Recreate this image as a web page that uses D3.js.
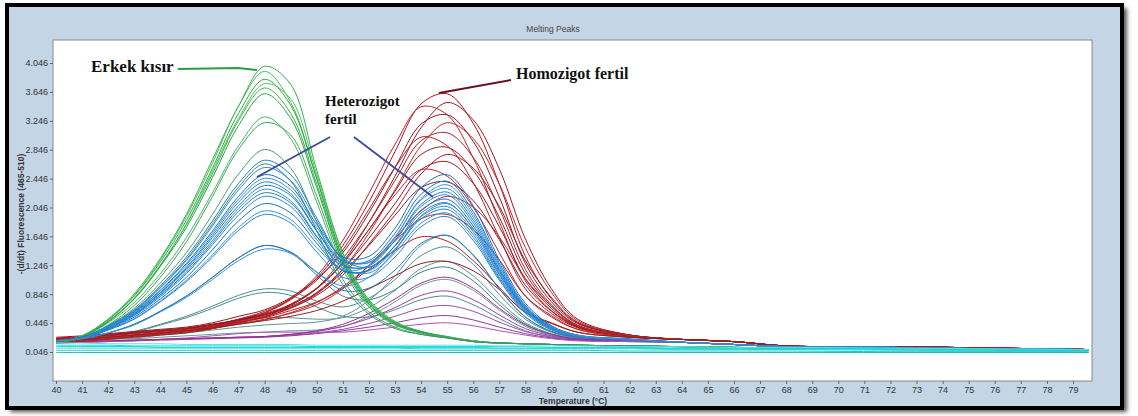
<!DOCTYPE html>
<html>
<head>
<meta charset="utf-8">
<title>Melting Peaks</title>
<script src="https://d3js.org/d3.v7.min.js"></script>
<style>
  html, body { margin: 0; background: #fff; }
  svg { display: block; }
  .tick text { font-family: "Liberation Sans", Arial, sans-serif; font-size: 9px; fill: #333; }
  .tick line { stroke: #666; }
  .curve { fill: none; stroke-width: 1; }
  .note { font-family: "Liberation Serif", "Times New Roman", serif; font-weight: bold; fill: #111; }
  .axisTitle { font-family: "Liberation Sans", Arial, sans-serif; font-weight: bold; font-size: 8.5px; fill: #333; }
</style>
</head>
<body>
<svg width="1138" height="416"></svg>
<script>
// temperature grid shared by every curve (°C)
const temps = [40, 41, 42, 43, 44, 45, 46, 47, 48, 49, 50, 51, 52, 53, 54, 55, 56, 57, 58, 59, 60, 62, 64, 66, 68, 72, 76, 79.6];

const xTicks = [40, 41, 42, 43, 44, 45, 46, 47, 48, 49, 50, 51, 52, 53, 54, 55, 56, 57, 58, 59,
                60, 61, 62, 63, 64, 65, 66, 67, 68, 69, 70, 71, 72, 73, 74, 75, 76, 77, 78, 79];
const yTicks = [0.046, 0.446, 0.846, 1.246, 1.646, 2.046, 2.446, 2.846, 3.246, 3.646, 4.046];

// Erkek kısır (single peak ~48 °C)
const greenCurves = [
  [0.18,0.27,0.5,0.85,1.34,1.95,2.71,3.45,4.0,3.75,2.56,1.42,0.77,0.47,0.33,0.26,0.2,0.17,0.16,0.15,0.14,0.13,0.12,0.11,0.1,0.1,0.08,0.07],
  [0.18,0.27,0.5,0.83,1.32,1.92,2.66,3.45,3.93,3.5,2.45,1.35,0.75,0.46,0.33,0.26,0.2,0.17,0.16,0.15,0.14,0.13,0.12,0.11,0.1,0.1,0.08,0.07],
  [0.18,0.26,0.49,0.82,1.29,1.87,2.59,3.35,3.82,3.46,2.44,1.36,0.74,0.45,0.33,0.25,0.2,0.17,0.16,0.15,0.14,0.13,0.12,0.11,0.1,0.1,0.08,0.07],
  [0.18,0.25,0.46,0.78,1.24,1.82,2.55,3.28,3.76,3.55,2.5,1.4,0.75,0.45,0.32,0.25,0.2,0.17,0.16,0.15,0.14,0.13,0.12,0.11,0.1,0.1,0.08,0.07],
  [0.17,0.25,0.47,0.79,1.25,1.81,2.51,3.25,3.7,3.35,2.37,1.32,0.72,0.44,0.32,0.25,0.19,0.17,0.16,0.15,0.14,0.13,0.12,0.11,0.1,0.1,0.08,0.07],
  [0.18,0.26,0.47,0.78,1.23,1.77,2.46,3.18,3.62,3.28,2.32,1.29,0.71,0.44,0.32,0.25,0.19,0.17,0.16,0.15,0.14,0.13,0.12,0.11,0.1,0.1,0.08,0.07],
  [0.18,0.25,0.45,0.73,1.13,1.63,2.25,2.9,3.3,3.0,2.12,1.19,0.67,0.42,0.31,0.25,0.19,0.17,0.16,0.15,0.14,0.13,0.12,0.11,0.1,0.1,0.08,0.07],
  [0.18,0.24,0.42,0.69,1.08,1.57,2.2,2.85,3.22,3.05,2.2,1.25,0.69,0.43,0.31,0.25,0.19,0.17,0.16,0.15,0.14,0.13,0.12,0.11,0.1,0.1,0.08,0.07],
  [0.18,0.24,0.41,0.65,1.0,1.42,1.95,2.51,2.85,2.59,1.84,1.05,0.6,0.39,0.29,0.24,0.19,0.17,0.16,0.15,0.14,0.13,0.12,0.11,0.1,0.1,0.08,0.07],
  [0.18,0.24,0.4,0.62,0.94,1.33,1.82,2.33,2.65,2.41,1.72,0.98,0.57,0.37,0.29,0.24,0.19,0.17,0.16,0.15,0.14,0.13,0.12,0.11,0.1,0.1,0.08,0.07]
];

// Heterozigot fertil (two peaks, ~48 and ~55 °C)
const blueCurves = [
  [0.2,0.25,0.41,0.63,0.96,1.36,1.86,2.38,2.7,2.5,1.9,1.33,1.22,1.47,1.89,2.02,1.67,1.08,0.61,0.36,0.26,0.22,0.18,0.15,0.12,0.11,0.09,0.08],
  [0.2,0.25,0.4,0.61,0.93,1.31,1.79,2.29,2.6,2.42,1.86,1.34,1.28,1.59,2.06,2.22,1.83,1.18,0.65,0.38,0.27,0.22,0.18,0.15,0.12,0.11,0.09,0.08],
  [0.2,0.25,0.39,0.6,0.9,1.27,1.72,2.2,2.5,2.34,1.81,1.36,1.37,1.76,2.32,2.5,2.07,1.32,0.72,0.41,0.28,0.23,0.18,0.15,0.12,0.11,0.09,0.08],
  [0.2,0.24,0.39,0.59,0.89,1.25,1.69,2.16,2.45,2.29,1.77,1.31,1.29,1.64,2.15,2.31,1.91,1.23,0.67,0.39,0.27,0.22,0.18,0.15,0.12,0.11,0.09,0.08],
  [0.2,0.24,0.38,0.58,0.87,1.22,1.66,2.12,2.4,2.24,1.72,1.26,1.22,1.51,1.97,2.11,1.75,1.13,0.63,0.37,0.27,0.22,0.18,0.15,0.12,0.11,0.09,0.08],
  [0.2,0.24,0.38,0.57,0.86,1.2,1.63,2.07,2.35,2.21,1.72,1.3,1.31,1.69,2.23,2.41,1.99,1.28,0.69,0.4,0.28,0.22,0.18,0.15,0.12,0.11,0.09,0.08],
  [0.2,0.24,0.38,0.56,0.84,1.18,1.59,2.03,2.3,2.14,1.65,1.21,1.14,1.42,1.83,1.97,1.63,1.06,0.6,0.36,0.26,0.22,0.18,0.15,0.12,0.11,0.09,0.08],
  [0.2,0.24,0.37,0.56,0.83,1.15,1.56,1.99,2.25,2.11,1.64,1.24,1.24,1.59,2.09,2.26,1.87,1.2,0.66,0.38,0.27,0.22,0.18,0.15,0.12,0.11,0.09,0.08],
  [0.2,0.24,0.37,0.55,0.81,1.13,1.53,1.94,2.2,2.06,1.6,1.18,1.17,1.47,1.92,2.06,1.71,1.11,0.62,0.37,0.26,0.22,0.18,0.15,0.12,0.11,0.09,0.08],
  [0.2,0.24,0.36,0.53,0.78,1.08,1.46,1.86,2.1,1.97,1.55,1.17,1.18,1.52,2.01,2.16,1.79,1.16,0.64,0.38,0.27,0.22,0.18,0.15,0.12,0.11,0.09,0.08],
  [0.2,0.24,0.35,0.51,0.75,1.04,1.39,1.77,2.0,1.88,1.49,1.18,1.24,1.63,2.17,2.36,1.95,1.25,0.68,0.39,0.28,0.22,0.18,0.15,0.12,0.11,0.09,0.08],
  [0.2,0.23,0.35,0.5,0.74,1.02,1.36,1.73,1.95,1.83,1.43,1.08,1.08,1.36,1.78,1.92,1.59,1.04,0.58,0.35,0.26,0.21,0.18,0.15,0.12,0.11,0.09,0.08],
  [0.2,0.23,0.31,0.43,0.61,0.82,1.08,1.35,1.52,1.43,1.15,0.9,0.93,1.18,1.55,1.66,1.39,0.92,0.53,0.33,0.25,0.21,0.18,0.15,0.12,0.11,0.09,0.08],
  [0.2,0.23,0.31,0.42,0.6,0.8,1.05,1.31,1.47,1.41,1.15,0.96,1.08,1.45,1.93,2.1,1.75,1.13,0.63,0.37,0.27,0.22,0.18,0.15,0.12,0.11,0.09,0.08]
];

// grey-teal samples with weaker peaks
const tealCurves = [
  [0.2,0.21,0.27,0.33,0.43,0.54,0.68,0.83,0.92,0.89,0.75,0.67,0.79,1.05,1.38,1.5,1.26,0.84,0.5,0.32,0.24,0.21,0.18,0.15,0.12,0.11,0.09,0.08],
  [0.2,0.21,0.23,0.26,0.31,0.36,0.42,0.48,0.52,0.52,0.5,0.52,0.66,0.9,1.2,1.3,1.1,0.75,0.45,0.3,0.23,0.2,0.18,0.15,0.12,0.11,0.09,0.08],
  [0.2,0.23,0.31,0.43,0.61,0.82,1.08,1.35,1.52,1.42,1.11,0.82,0.77,0.91,1.15,1.22,1.03,0.7,0.43,0.29,0.23,0.2,0.18,0.15,0.12,0.11,0.09,0.08],
  [0.2,0.2,0.22,0.23,0.25,0.27,0.29,0.31,0.32,0.34,0.35,0.4,0.54,0.74,0.97,1.05,0.9,0.63,0.4,0.28,0.22,0.2,0.18,0.15,0.12,0.11,0.09,0.08],
  [0.2,0.21,0.26,0.32,0.42,0.52,0.65,0.79,0.87,0.83,0.67,0.54,0.53,0.63,0.77,0.82,0.7,0.51,0.34,0.25,0.21,0.19,0.18,0.15,0.12,0.11,0.09,0.08],
  [0.2,0.2,0.23,0.24,0.28,0.31,0.35,0.39,0.42,0.44,0.46,0.54,0.76,1.1,1.52,1.66,1.38,0.92,0.53,0.33,0.25,0.21,0.18,0.15,0.12,0.11,0.09,0.08]
];

// purple samples, low peak ~54.5 °C
const purpleCurves = [
  [0.18,0.19,0.2,0.21,0.22,0.23,0.24,0.25,0.26,0.29,0.33,0.4,0.51,0.66,0.83,0.89,0.77,0.56,0.37,0.27,0.22,0.2,0.18,0.15,0.12,0.11,0.09,0.08],
  [0.18,0.19,0.2,0.21,0.22,0.23,0.24,0.25,0.26,0.28,0.31,0.36,0.44,0.54,0.65,0.69,0.61,0.46,0.33,0.26,0.22,0.2,0.18,0.15,0.12,0.11,0.09,0.08],
  [0.17,0.18,0.19,0.2,0.21,0.22,0.23,0.24,0.25,0.27,0.3,0.34,0.39,0.45,0.52,0.55,0.49,0.39,0.3,0.24,0.21,0.19,0.18,0.15,0.12,0.11,0.09,0.08],
  [0.17,0.18,0.19,0.2,0.22,0.24,0.27,0.3,0.32,0.32,0.32,0.32,0.35,0.39,0.43,0.45,0.41,0.34,0.28,0.23,0.2,0.19,0.18,0.15,0.12,0.11,0.09,0.08],
  [0.18,0.19,0.2,0.21,0.22,0.23,0.24,0.25,0.26,0.29,0.34,0.43,0.58,0.78,1.0,1.08,0.93,0.65,0.42,0.29,0.23,0.21,0.18,0.15,0.12,0.11,0.09,0.08]
];

// Homozigot fertil (single peak ~54.6 °C)
const redCurves = [
  [0.2,0.22,0.25,0.28,0.31,0.34,0.4,0.5,0.59,0.77,1.07,1.52,2.12,2.82,3.48,3.62,3.21,2.37,1.37,0.78,0.45,0.28,0.22,0.19,0.13,0.12,0.1,0.08],
  [0.23,0.25,0.28,0.31,0.34,0.37,0.43,0.49,0.58,0.7,0.92,1.29,1.84,2.48,3.15,3.5,3.26,2.58,1.61,0.92,0.5,0.28,0.22,0.19,0.13,0.12,0.1,0.08],
  [0.18,0.2,0.23,0.26,0.29,0.32,0.38,0.47,0.59,0.79,1.1,1.59,2.24,2.92,3.44,3.33,2.73,1.85,1.03,0.62,0.4,0.26,0.22,0.19,0.13,0.12,0.1,0.08],
  [0.25,0.27,0.3,0.33,0.36,0.39,0.45,0.54,0.63,0.8,1.06,1.42,1.97,2.6,3.2,3.33,2.96,2.19,1.27,0.74,0.44,0.28,0.22,0.19,0.13,0.12,0.1,0.08],
  [0.2,0.22,0.25,0.28,0.31,0.34,0.4,0.46,0.54,0.65,0.85,1.19,1.69,2.29,2.9,3.22,3.0,2.37,1.49,0.87,0.48,0.28,0.22,0.19,0.13,0.12,0.1,0.08],
  [0.17,0.19,0.22,0.25,0.28,0.31,0.37,0.45,0.54,0.69,0.93,1.34,1.84,2.42,2.97,3.08,2.74,2.03,1.19,0.7,0.42,0.27,0.22,0.19,0.13,0.12,0.1,0.08],
  [0.22,0.24,0.27,0.3,0.33,0.36,0.42,0.5,0.61,0.78,1.04,1.46,2.02,2.6,3.02,2.9,2.39,1.63,0.92,0.58,0.38,0.26,0.22,0.19,0.13,0.12,0.1,0.08],
  [0.2,0.22,0.25,0.28,0.31,0.34,0.4,0.48,0.56,0.7,0.93,1.28,1.74,2.27,2.78,2.88,2.56,1.91,1.13,0.68,0.41,0.27,0.22,0.19,0.13,0.12,0.1,0.08],
  [0.24,0.26,0.29,0.32,0.35,0.38,0.43,0.49,0.57,0.66,0.83,1.11,1.54,2.0,2.51,2.78,2.59,2.06,1.31,0.8,0.46,0.28,0.22,0.19,0.13,0.12,0.1,0.08],
  [0.18,0.2,0.23,0.26,0.29,0.32,0.37,0.45,0.53,0.66,0.87,1.19,1.62,2.1,2.57,2.68,2.38,1.78,1.06,0.65,0.4,0.27,0.22,0.19,0.13,0.12,0.1,0.08],
  [0.2,0.22,0.25,0.28,0.31,0.34,0.39,0.47,0.56,0.71,0.93,1.27,1.74,2.22,2.57,2.48,2.05,1.42,0.82,0.53,0.36,0.25,0.22,0.19,0.13,0.12,0.1,0.08],
  [0.23,0.25,0.28,0.31,0.34,0.37,0.42,0.49,0.56,0.68,0.86,1.15,1.52,1.94,2.32,2.4,2.14,1.6,0.97,0.61,0.39,0.27,0.22,0.19,0.13,0.12,0.1,0.08],
  [0.2,0.22,0.25,0.28,0.31,0.34,0.39,0.44,0.5,0.58,0.7,0.92,1.24,1.62,2.0,2.2,2.05,1.64,1.06,0.68,0.41,0.27,0.22,0.19,0.13,0.12,0.1,0.08],
  [0.18,0.2,0.23,0.26,0.29,0.32,0.37,0.43,0.49,0.59,0.73,0.95,1.24,1.58,1.89,1.95,1.74,1.32,0.82,0.55,0.36,0.26,0.22,0.19,0.13,0.12,0.1,0.08],
  [0.22,0.24,0.27,0.3,0.33,0.36,0.4,0.46,0.52,0.62,0.74,0.93,1.19,1.45,1.64,1.58,1.31,0.94,0.59,0.44,0.32,0.25,0.22,0.19,0.13,0.12,0.1,0.08],
  [0.2,0.22,0.25,0.28,0.31,0.34,0.38,0.43,0.48,0.54,0.62,0.75,0.92,1.1,1.27,1.3,1.17,0.91,0.6,0.45,0.32,0.25,0.22,0.19,0.13,0.12,0.1,0.08]
];

// negative controls, flat near baseline
const cyanCurves = [
  [0.14,0.14,0.14,0.13,0.13,0.13,0.13,0.13,0.13,0.13,0.12,0.12,0.12,0.12,0.12,0.12,0.12,0.12,0.12,0.11,0.11,0.11,0.1,0.1,0.1,0.09,0.08,0.07],
  [0.1,0.1,0.1,0.1,0.1,0.1,0.1,0.1,0.1,0.1,0.1,0.1,0.1,0.1,0.09,0.09,0.09,0.09,0.09,0.09,0.09,0.09,0.08,0.08,0.08,0.07,0.06,0.05],
  [0.07,0.07,0.07,0.07,0.07,0.07,0.07,0.07,0.07,0.07,0.07,0.07,0.07,0.07,0.07,0.07,0.07,0.07,0.07,0.07,0.07,0.06,0.06,0.06,0.06,0.05,0.05,0.04],
  [0.17,0.17,0.16,0.16,0.16,0.15,0.15,0.15,0.15,0.15,0.14,0.14,0.14,0.14,0.14,0.14,0.14,0.13,0.13,0.13,0.13,0.12,0.12,0.11,0.11,0.1,0.09,0.08],
  [0.04,0.04,0.04,0.04,0.04,0.04,0.04,0.04,0.04,0.04,0.04,0.04,0.04,0.04,0.04,0.04,0.04,0.04,0.04,0.04,0.04,0.04,0.04,0.04,0.04,0.04,0.04,0.04],
  [0.12,0.12,0.12,0.12,0.11,0.11,0.11,0.11,0.11,0.11,0.11,0.11,0.11,0.11,0.11,0.11,0.11,0.1,0.1,0.1,0.1,0.1,0.09,0.09,0.09,0.08,0.07,0.06]
];

const groups = [
  {data: tealCurves,   colors: ["#4e8c8c", "#5a9898", "#3f7f86", "#6a9a9a", "#4d8a90", "#5f9494"]},
  {data: purpleCurves, colors: ["#9a3fa8", "#a04ab0", "#8a3a9a", "#b050b8", "#9a2f8a"]},
  {data: redCurves,    colors: ["#b0141e", "#9a1a22", "#c0202a", "#8e1a22", "#c8242c", "#a52a2a", "#b61c24", "#902020"]},
  {data: greenCurves,  colors: ["#34b14a", "#3fbf55", "#2fa844", "#4cc35e", "#39b54a", "#2e9e48", "#44b860", "#3aa957", "#4a9e6a", "#3f8f6f"]},
  {data: blueCurves,   colors: ["#1f7fd1", "#2a8ad8", "#1a70c0", "#3296dd", "#2b84cc", "#1e78c8", "#3a8fd0"]},
  {data: cyanCurves,   colors: ["#00e0e0", "#3fd3d3", "#1ec8c8", "#66e0e0", "#20b2b2", "#0fd6d6"]}
];

const svg = d3.select("svg");
const plot = {left: 53, top: 40, right: 1092, bottom: 381};

const x = d3.scaleLinear().domain([40, 79]).range([56, 1073]);
const y = d3.scaleLinear().domain([0.046, 4.046]).range([352, 63]);

// frame with drop shadow
const defs = svg.append("defs");
const blur = defs.append("filter").attr("id", "shadow").attr("x", "-5%").attr("y", "-5%").attr("width", "110%").attr("height", "115%");
blur.append("feGaussianBlur").attr("stdDeviation", 2);
defs.append("clipPath").attr("id", "clip")
  .append("rect").attr("x", plot.left).attr("y", plot.top)
  .attr("width", plot.right - plot.left).attr("height", plot.bottom - plot.top);

svg.append("rect").attr("x", 10).attr("y", 8).attr("width", 1117).attr("height", 404)
  .attr("fill", "#555").attr("filter", "url(#shadow)");
svg.append("rect").attr("x", 7).attr("y", 5).attr("width", 1115).attr("height", 403)
  .attr("fill", "#c4d5e6").attr("stroke", "#000").attr("stroke-width", 4);

svg.append("rect").attr("x", plot.left).attr("y", plot.top)
  .attr("width", plot.right - plot.left).attr("height", plot.bottom - plot.top)
  .attr("fill", "#fff").attr("stroke", "#8a8a8a").attr("stroke-width", 1);

svg.append("text").attr("x", 553).attr("y", 32).attr("text-anchor", "middle")
  .attr("font-family", "Liberation Sans, Arial, sans-serif").attr("font-size", 8.5).attr("fill", "#444")
  .text("Melting Peaks");

// axes
const xAxis = svg.append("g").attr("transform", `translate(0,${plot.bottom})`)
  .call(d3.axisBottom(x).tickValues(xTicks).tickSize(3).tickPadding(3).tickFormat(d3.format("d")));
xAxis.select(".domain").remove();

const yAxis = svg.append("g").attr("transform", `translate(${plot.left},0)`)
  .call(d3.axisLeft(y).tickValues(yTicks).tickSize(3).tickPadding(2).tickFormat(d3.format(".3f")));
yAxis.select(".domain").remove();

svg.append("text").attr("class", "axisTitle").attr("x", 573).attr("y", 404)
  .attr("text-anchor", "middle").text("Temperature (°C)");
svg.append("text").attr("class", "axisTitle")
  .attr("transform", "translate(24,214) rotate(-90)")
  .attr("text-anchor", "middle").text("-(d/dt) Fluorescence (465-510)");

// curves
const line = d3.line()
  .x((d, i) => x(temps[i]))
  .y(d => y(d))
  .curve(d3.curveCatmullRom.alpha(0.5));

const curves = svg.append("g").attr("clip-path", "url(#clip)");
groups.forEach(g => {
  curves.append("g").selectAll("path")
    .data(g.data)
    .join("path")
    .attr("class", "curve")
    .attr("stroke", (d, i) => g.colors[i % g.colors.length])
    .attr("d", line);
});

// annotations
const notes = svg.append("g");
notes.append("text").attr("class", "note").attr("x", 91).attr("y", 72)
  .attr("font-size", 17).text("Erkek kısır");
notes.append("polyline").attr("points", "178,69 238,68 257,70")
  .attr("fill", "none").attr("stroke", "#2f9a48").attr("stroke-width", 2);

notes.append("text").attr("class", "note").attr("x", 516).attr("y", 79)
  .attr("font-size", 16).text("Homozigot fertil");
notes.append("line").attr("x1", 511).attr("y1", 80).attr("x2", 439).attr("y2", 93)
  .attr("stroke", "#6b1020").attr("stroke-width", 2);

notes.append("text").attr("class", "note").attr("x", 325).attr("y", 106)
  .attr("font-size", 15).text("Heterozigot");
notes.append("text").attr("class", "note").attr("x", 325).attr("y", 124)
  .attr("font-size", 15).text("fertil");
notes.append("line").attr("x1", 330).attr("y1", 137).attr("x2", 257).attr("y2", 177)
  .attr("stroke", "#3b4a9a").attr("stroke-width", 1.8);
notes.append("line").attr("x1", 354).attr("y1", 137).attr("x2", 433).attr("y2", 197)
  .attr("stroke", "#3b4a9a").attr("stroke-width", 1.8);
</script>
</body>
</html>
